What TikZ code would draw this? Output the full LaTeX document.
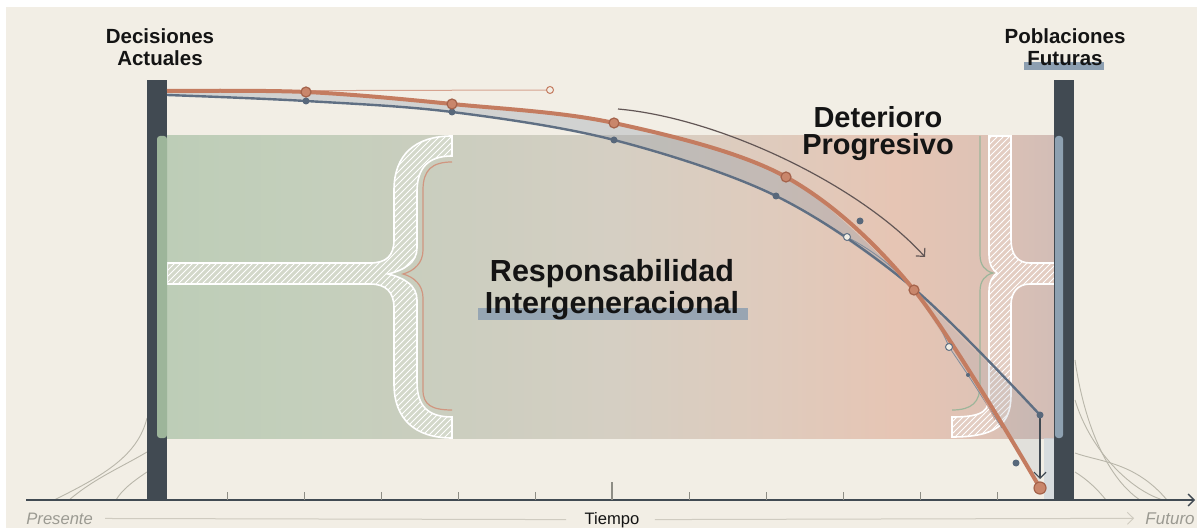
\documentclass[tikz,border=0pt]{standalone}
\usepackage{fontspec}
\setmainfont{Liberation Sans}
\usetikzlibrary{arrows.meta,patterns}

\definecolor{paper}{HTML}{F2EEE5}
\definecolor{inkcol}{HTML}{141414}
\definecolor{barcol}{HTML}{414A52}
\definecolor{greenstrip}{HTML}{9DB59A}
\definecolor{bluestrip}{HTML}{8EA1B1}
\definecolor{orangeline}{HTML}{C47C60}
\definecolor{orangedot}{HTML}{C9866B}
\definecolor{orangerim}{HTML}{A4624A}
\definecolor{blueline}{HTML}{5F6F83}
\definecolor{bluedot}{HTML}{58687B}
\definecolor{gapcol}{HTML}{8593A3}
\definecolor{hilite}{HTML}{8D9FB1}
\definecolor{bracegreen}{HTML}{D3D8CA}
\definecolor{bracepink}{HTML}{E3CDC2}
\definecolor{flowcol}{HTML}{B9B6AA}
\definecolor{tickcol}{HTML}{8E8D85}
\definecolor{guidecol}{HTML}{CFCBC0}
\definecolor{softtext}{HTML}{9B9A92}
\definecolor{bandA}{HTML}{BDCDB7}
\definecolor{bandB}{HTML}{C3CFBB}
\definecolor{bandC}{HTML}{CBCEBF}
\definecolor{bandD}{HTML}{D5CFC3}
\definecolor{bandE}{HTML}{DFCBBD}
\definecolor{bandF}{HTML}{E6C5B4}
\definecolor{bandG}{HTML}{DEC2B5}
\definecolor{bandH}{HTML}{D2BDB6}

\pgfdeclarehorizontalshading{bandfade}{100bp}{color(0bp)=(bandA); color(25bp)=(bandA); color(32bp)=(bandB); color(41bp)=(bandC); color(50bp)=(bandD); color(59bp)=(bandE); color(66bp)=(bandF); color(71bp)=(bandG); color(75bp)=(bandH); color(100bp)=(bandH)}

\begin{document}
\begin{tikzpicture}[x=0.5pt, y=-0.5pt,
  headtext/.style={font=\fontsize{10.25}{11}\selectfont\bfseries, align=center, inner sep=0pt, text=inkcol},
  bigtext/.style={font=\fontsize{15.25}{16}\selectfont\bfseries, align=center, inner sep=0pt, text=inkcol},
  axistext/.style={font=\fontsize{8.3}{10}\selectfont, inner sep=0pt},
  bracebox/.style={draw=white, line width=0.8pt, preaction={fill=#1}, pattern=north east lines, pattern color=white},
  flow/.style={draw=flowcol, line width=0.45pt},
  tick/.style={draw=tickcol, line width=0.45pt},
  tipped/.style={-{Straight Barb[length=3pt, width=6pt]}},
  orangecurve/.style={draw=orangeline, line width=2pt},
  bluecurve/.style={draw=blueline, line width=1.2pt},
  odot/.style={fill=orangedot, draw=orangerim, line width=0.6pt},
  bdot/.style={fill=bluedot},
  hollow/.style={fill=paper, draw=blueline, line width=0.5pt}]

  % Paper and margins
  \useasboundingbox (0,0) rectangle (1197,528);
  \fill[white] (0,0) rectangle (1197,528);
  \fill[paper] (6,7) rectangle (1197,528);

  % Shaded band between the two bars
  \fill[shading=bandfade] (167,136) rectangle (1055,438);
  \fill[bluestrip!45, opacity=0.7] (1044,438) rectangle (1055,500);

  % Left brace with its stem
  \path[bracebox=bracegreen] (167,263) -- (370,263) .. controls (386,263) and (394,256) .. (394,240) -- (394,190)
    .. controls (394,155) and (415,136) .. (452,136) -- (452,156) .. controls (428,156) and (417,168) .. (417,192)
    -- (417,248) .. controls (417,262) and (405,270) .. (388,274) .. controls (405,278) and (417,286) .. (417,300)
    -- (417,382) .. controls (417,406) and (428,417) .. (452,417) -- (452,438) .. controls (415,438) and (394,419) .. (394,384)
    -- (394,308) .. controls (394,292) and (386,284) .. (370,284) -- (167,284) -- cycle;
  \draw[orangeline!80, line width=0.6pt] (452,162) .. controls (432,162) and (423,170) .. (423,190) -- (423,250)
    .. controls (423,263) and (414,271) .. (403,274) .. controls (414,277) and (423,285) .. (423,298)
    -- (423,390) .. controls (423,405) and (432,410) .. (452,410);

  % Right brace with its stem
  \path[bracebox=bracepink] (1063,263) -- (1030,263) .. controls (1018,263) and (1011,255) .. (1011,240) -- (1011,136)
    -- (989,136) -- (989,255) .. controls (989,265) and (993,270) .. (997,273) .. controls (993,276) and (989,281) .. (989,291)
    -- (989,395) .. controls (989,410) and (985,417) .. (952,417) -- (952,437) .. controls (995,437) and (1011,425) .. (1011,395)
    -- (1011,305) .. controls (1011,292) and (1018,284) .. (1030,284) -- (1063,284) -- cycle;
  \draw[greenstrip, line width=0.6pt] (980,136) -- (980,255) .. controls (980,265) and (985,271) .. (993,273)
    .. controls (985,275) and (980,281) .. (980,291) -- (980,385) .. controls (980,402) and (972,410) .. (952,410);

  % Flow lines at the foot of the bars
  \draw[flow] (147,418) .. controls (138,455) and (105,475) .. (54,500);
  \draw[flow] (147,452) .. controls (120,468) and (95,478) .. (69,500);
  \draw[flow] (147,472) .. controls (132,482) and (122,490) .. (116,500);
  \draw[flow] (1075,360) .. controls (1085,430) and (1110,480) .. (1140,500);
  \draw[flow] (1075,400) .. controls (1090,450) and (1130,490) .. (1163,500);
  \draw[flow] (1075,453) .. controls (1100,462) and (1135,462) .. (1167,500);
  \draw[flow] (1075,472) .. controls (1088,480) and (1098,490) .. (1106,500);

  % Bars
  \fill[barcol] (147,80) rectangle (167,500);
  \fill[barcol] (1054,80) rectangle (1074,500);
  \fill[greenstrip, rounded corners=1.5pt] (157,136) rectangle (167,438);
  \fill[bluestrip, rounded corners=1.5pt] (1055,136) rectangle (1063,438);

  % Time axis
  \coordinate (axisstart) at (26,500);
  \coordinate (axisend) at (1195,500);
  \draw[barcol, line width=0.7pt, tipped] (axisstart) -- (axisend);
  \foreach \tx in {227,304,...,997}
    \draw[tick] (\tx,492) -- (\tx,500);
  \draw[tick, line width=0.6pt] (612,482) -- (612,500);

  % Points of the two curves
  \coordinate (o0) at (167,91);
  \coordinate (o1) at (306,92);
  \coordinate (o2) at (452,104);
  \coordinate (o3) at (614,123);
  \coordinate (o4) at (786,177);
  \coordinate (o5) at (914,290);
  \coordinate (o6) at (1040,488);
  \coordinate (b0) at (167,95);
  \coordinate (b1) at (306,101);
  \coordinate (b2) at (452,112);
  \coordinate (b3) at (614,140);
  \coordinate (b4) at (776,196);
  \coordinate (b5) at (912,287);
  \coordinate (b6) at (1040,415);
  \coordinate (h0) at (550,90);
  \coordinate (h1) at (847,237);
  \coordinate (h2) at (949,347);
  \coordinate (arrowend) at (1040,479);
  \coordinate (arcstart) at (618,109);
  \coordinate (arcend) at (925,257);

  % Gap between the curves
  \fill[gapcol, opacity=0.3] plot[smooth, tension=0.55] coordinates {(o0) (o1) (o2) (o3) (o4) (o5)}
    -- plot[smooth, tension=0.55] coordinates {(b5) (b4) (b3) (b2) (b1) (b0)} -- cycle;
  \fill[gapcol, opacity=0.15] (o5) -- (b6) -- (arrowend) -- (o6) -- cycle;

  % Thin guide strokes
  \draw[orangeline!70, line width=0.5pt] (o0) -- (h0);
  \draw[blueline!80, line width=0.4pt] (h1) .. controls (895,262) and (930,300) .. (h2) -- (968,375) -- (1002,428);
  \draw[orangeline!70, line width=0.4pt] (o5) .. controls (945,330) and (975,380) .. (995,420);
  \draw[barcol!75!orangeline, line width=0.6pt, tipped] (arcstart) .. controls (720,118) and (860,185) .. (arcend);

  % The two curves
  \draw[bluecurve] plot[smooth, tension=0.55] coordinates {(b0) (b1) (b2) (b3) (b4) (b5) (b6)};
  \draw[orangecurve] plot[smooth, tension=0.55] coordinates {(o0) (o1) (o2) (o3) (o4) (o5) (o6)};
  \draw[barcol, line width=0.6pt, tipped] (b6) -- (arrowend);

  % Dots
  \foreach \p in {b1,b2,b3,b4,b6}
    \fill[bdot] (\p) circle (3.5);
  \fill[bdot] (860,221) circle (3.5);
  \fill[bdot] (1016,463) circle (3.5);
  \fill[bdot] (968,375) circle (2);
  \foreach \p in {o1,o2,o3,o4,o5}
    \filldraw[odot] (\p) circle (5);
  \filldraw[odot] (o6) circle (6);
  \filldraw[hollow, draw=orangeline] (h0) circle (3.5);
  \filldraw[hollow] (h1) circle (3.5);
  \filldraw[hollow] (h2) circle (3.5);

  % Labels
  \node[headtext] (decisiones) at (160,47) {Decisiones\\Actuales};
  \fill[hilite] (1024,62) rectangle (1104,70);
  \node[headtext] (poblaciones) at (1065,47) {Poblaciones\\Futuras};
  \node[bigtext, font=\fontsize{14.5}{13.5}\selectfont\bfseries] (deterioro) at (878,134) {Deterioro\\Progresivo};
  \fill[hilite, opacity=0.85] (478,308) rectangle (748,320);
  \node[bigtext] (responsabilidad) at (612,290) {Responsabilidad\\Intergeneracional};

  % Axis captions
  \node[axistext, anchor=base west, text=softtext, font=\fontsize{8.3}{10}\selectfont\itshape] (presente) at (26,524) {Presente};
  \node[axistext, anchor=base, text=inkcol] (tiempo) at (612,524) {Tiempo};
  \node[axistext, anchor=base east, text=softtext, font=\fontsize{8.5}{10}\selectfont\itshape] (futuro) at (1195,524) {Futuro};
  \draw[guidecol, line width=0.5pt, shorten <=6pt, shorten >=9pt] (presente) -- (tiempo);
  \draw[guidecol, line width=0.5pt, shorten <=7.5pt, shorten >=5.5pt, tipped] (tiempo) -- (futuro);
\end{tikzpicture}
\end{document}
